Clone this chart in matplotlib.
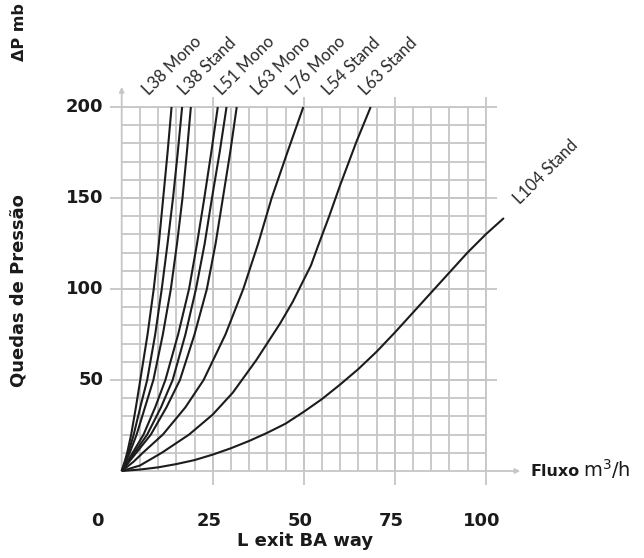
import numpy as np
import matplotlib
matplotlib.use('Agg')
from matplotlib import pyplot as plt

plt.rcParams['font.family'] = ['DejaVu Sans']

# flow (m3/h) and pressure drop (mb)
drop_steep = [0, 5, 10, 20, 35, 50, 75, 100, 125, 150, 175, 200]
flow_1 = [0, 0.8, 1.5, 2.6, 3.9, 5.1, 7.1, 8.8, 10.2, 11.4, 12.6, 13.7]
flow_2 = [0, 0.9, 1.8, 3.3, 5.1, 7.0, 9.2, 11.0, 12.6, 14.1, 15.4, 16.6]
flow_3 = [0, 1.1, 2.2, 4.1, 6.4, 8.7, 11.3, 13.5, 15.2, 16.7, 17.9, 19.0]
flow_4 = [0, 1.5, 3.0, 6.0, 9.2, 12.0, 15.5, 18.5, 20.7, 22.7, 24.6, 26.4]
flow_5 = [0, 1.8, 3.5, 7.0, 10.8, 14.0, 17.5, 20.4, 22.8, 24.8, 26.9, 28.8]
flow_6 = [0, 2.0, 4.0, 8.0, 12.3, 16.0, 20.0, 23.4, 25.8, 27.8, 29.8, 31.6]
flow_7 = [0, 3.2, 5.8, 11.3, 17.5, 22.5, 28.5, 33.4, 37.5, 41.2, 45.5, 49.9]

flow_8 = [0, 5, 11, 18.5, 25, 30.5, 37, 43.5, 47, 50, 52, 54, 57, 60, 64.5, 68.4]
drop_8 = [0, 3, 10, 20, 31, 43, 61, 81, 93, 105, 113, 124, 140, 157, 181, 200]

flow_9 = [0, 5, 10, 15, 20, 25, 30, 35, 40, 45, 50, 55, 60, 65, 70, 75,
          80, 85, 90, 95, 100, 105]
drop_9 = [0, 0.8, 2, 3.8, 6, 9, 12.5, 16.5, 21, 26, 32.5, 39.5, 47.5, 56, 65.5, 76,
          87, 98, 109, 120, 130, 139]

flows = [flow_1, flow_2, flow_3, flow_4, flow_5, flow_6, flow_7, flow_8, flow_9]
drops = [drop_steep] * 7 + [drop_8, drop_9]

top_labels = ['L38 Mono', 'L38 Stand', 'L51 Mono', 'L63 Mono',
              'L76 Mono', 'L54 Stand', 'L63 Stand']
top_label_x = [7.5, 17.5, 27.5, 37.5, 47, 57, 67]
side_label = 'L104 Stand'

x_ticks = [25, 50, 75, 100]
y_ticks = [50, 100, 150, 200]

grid_c = '#c6c6c6'
line_c = '#1c1c1c'
text_c = '#1a1a1a'

fig = plt.figure(figsize=(6.44, 5.58), dpi=100)
ax = fig.add_axes([121.7 / 644, 87 / 558, 364 / 644, 364 / 558])
ax.set_xlim(0, 100)
ax.set_ylim(0, 200)
ax.axis('off')

# square grid
ax.vlines(np.arange(5, 101, 5), 0, 200, color=grid_c, lw=1.3, zorder=1)
ax.hlines(np.arange(10, 201, 10), 0, 100, color=grid_c, lw=1.3, zorder=1)
ax.vlines(x_ticks, -7.5, 205.5, color=grid_c, lw=1.3, zorder=1, clip_on=False)
ax.hlines(y_ticks, -3.2, 103, color=grid_c, lw=1.3, zorder=1, clip_on=False)

# axes with small arrows
arrow = dict(arrowstyle='-|>', color=grid_c, lw=1.3, mutation_scale=7,
             shrinkA=0, shrinkB=0)
ax.annotate('', xy=(0, 211), xytext=(0, 0), arrowprops=arrow,
            annotation_clip=False)
ax.annotate('', xy=(109.5, 0), xytext=(0, 0), arrowprops=arrow,
            annotation_clip=False)

for fx, dy in zip(flows, drops):
    ax.plot(fx, dy, color=line_c, lw=1.5, zorder=3, clip_on=False,
            solid_joinstyle='round', solid_capstyle='butt')

for lab, lx in zip(top_labels, top_label_x):
    ax.text(lx, 206, lab, rotation=45, rotation_mode='anchor',
            ha='left', va='baseline', fontsize=12,
            family=['Lato', 'DejaVu Sans'], color='#2a2a2a', clip_on=False)
ax.text(109.5, 146, side_label, rotation=45, rotation_mode='anchor',
        ha='left', va='baseline', fontsize=12,
        family=['Lato', 'DejaVu Sans'], color='#2a2a2a', clip_on=False)

for t in x_ticks:
    ax.text(t - 1, -27.5, str(t), ha='center', va='center',
            fontsize=13, fontweight='bold', color=text_c)
ax.text(-6.8, -27.5, '0', ha='center', va='center',
        fontsize=13, fontweight='bold', color=text_c)
for t in y_ticks:
    ax.text(-5, t, str(t), ha='right', va='center',
            fontsize=13, fontweight='bold', color=text_c)

fig.text(305 / 644, 1 - 541 / 558, 'L exit BA way', ha='center', va='center',
         fontsize=13, fontweight='bold', color=text_c)
fig.text(19 / 644, 1 - 291 / 558, 'Quedas de Pressão', rotation=90,
         ha='center', va='center', fontsize=13, fontweight='bold',
         color=text_c)
fig.text(19 / 644, 1 - 32 / 558, 'ΔP mb', rotation=90,
         ha='center', va='center', fontsize=11.5, fontweight='bold',
         color=text_c)
fig.text(530 / 644, 1 - 471 / 558, 'Fluxo', ha='left', va='center',
         fontsize=11.5, fontweight='bold', color=text_c)
fig.text(583 / 644, 1 - 469 / 558, r'm$^3$/h', ha='left', va='center',
         fontsize=14, color=text_c)

fig.savefig('out.png', dpi=100)
